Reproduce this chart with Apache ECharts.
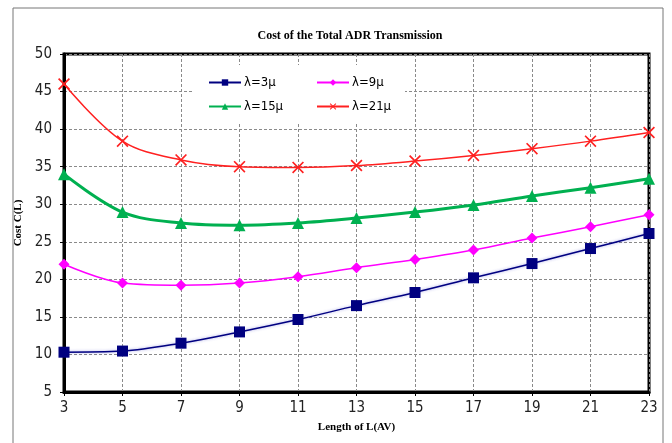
<!DOCTYPE html>
<html>
<head>
<meta charset="utf-8">
<script src="https://cdn.jsdelivr.net/npm/echarts@6/dist/echarts.min.js"></script>
<style>
  html, body { margin: 0; padding: 0; background: #fff; }
  #chart { width: 672px; height: 443px; }
</style>
</head>
<body>
<div id="chart"></div>
<script>
// Length of L(AV)
const lengths = ['3', '5', '7', '9', '11', '13', '15', '17', '19', '21', '23'];

// Cost C(L) for each λ
const costL3  = [10.3, 10.45, 11.5, 13.0, 14.65, 16.5, 18.25, 20.2, 22.1, 24.1, 26.1];
const costL9  = [22.0, 19.5, 19.2, 19.5, 20.35, 21.55, 22.65, 23.9, 25.5, 27.0, 28.6];
const costL15 = [34.0, 28.95, 27.5, 27.2, 27.5, 28.15, 28.95, 29.9, 31.1, 32.2, 33.4];
const costL21 = [46.0, 38.4, 35.9, 35.0, 34.9, 35.15, 35.75, 36.5, 37.4, 38.4, 39.55];

const names = ['λ=3μ', 'λ=9μ', 'λ=15μ', 'λ=21μ'];

const crossSymbol = 'path://M0,1 L1,0 L5,4 L9,0 L10,1 L6,5 L10,9 L9,10 L5,6 L1,10 L0,9 L4,5 Z';

const tickFont = '"DejaVu Sans Condensed", "Liberation Sans Narrow", sans-serif';
const serifFont = '"Liberation Serif", "Times New Roman", serif';

const chart = echarts.init(document.getElementById('chart'));

function legendAt(name, left, top) {
  return {
    data: [name], left: left, top: top, orient: 'horizontal',
    itemWidth: 32, itemHeight: 8, itemGap: 0, padding: 0, z: 5,
    textStyle: { fontFamily: tickFont, fontSize: 13, color: '#000', padding: [0, 0, 0, -2] }
  };
}

chart.setOption({
  animation: false,
  backgroundColor: '#fff',
  title: {
    text: 'Cost of the Total ADR Transmission',
    left: 345, top: 25, textAlign: 'center',
    textStyle: { fontFamily: serifFont, fontWeight: 'bold', fontSize: 12, color: '#000' }
  },
  graphic: [
    { type: 'rect', shape: { x: 13, y: 8, width: 650, height: 445 },
      style: { fill: 'none', stroke: '#777', lineWidth: 1 }, z: 0, silent: true },
    { type: 'rect', shape: { x: 194, y: 65, width: 211, height: 57 },
      style: { fill: '#fff' }, z: 1, silent: true }
  ],
  legend: [
    legendAt(names[0], 208, 76),
    legendAt(names[1], 316, 76),
    legendAt(names[2], 208, 100),
    legendAt(names[3], 316, 100)
  ],
  grid: {
    left: 64, right: 23, top: 54, bottom: 51,
    show: true, borderColor: '#000', borderWidth: 3, backgroundColor: 'transparent'
  },
  xAxis: {
    type: 'category', data: lengths, boundaryGap: false,
    name: 'Length of L(AV)', nameLocation: 'middle', nameGap: 30,
    nameTextStyle: { fontFamily: serifFont, fontWeight: 'bold', fontSize: 11, color: '#000' },
    axisLine: { show: true, lineStyle: { color: '#000', width: 3 } },
    axisTick: { show: true, inside: false, length: 4, alignWithLabel: true, lineStyle: { color: '#000', width: 1 } },
    axisLabel: { fontFamily: tickFont, fontSize: 15, color: '#222', margin: 9 },
    splitLine: { show: true, lineStyle: { color: '#8a8a8a', width: 1, type: [3, 2] } }
  },
  yAxis: {
    type: 'value', min: 5, max: 50, interval: 5,
    name: 'Cost C(L)', nameLocation: 'middle', nameGap: 38, nameRotate: 90,
    nameTextStyle: { fontFamily: serifFont, fontWeight: 'bold', fontSize: 11, color: '#000' },
    axisLine: { show: true, lineStyle: { color: '#000', width: 3 } },
    axisTick: { show: true, length: 4, lineStyle: { color: '#000', width: 1 } },
    axisLabel: { fontFamily: tickFont, fontSize: 15, color: '#222', margin: 12 },
    splitLine: { show: true, lineStyle: { color: '#8a8a8a', width: 1, type: [3, 2] } }
  },
  series: [
    {
      name: names[0], type: 'line', data: costL3, smooth: 0.35, z: 3,
      symbol: 'rect', symbolSize: 11,
      lineStyle: { color: '#000080', width: 1.5, shadowColor: 'rgba(60,60,200,0.45)', shadowBlur: 3 },
      itemStyle: { color: '#000080' }
    },
    {
      name: names[1], type: 'line', data: costL9, smooth: 0.35, z: 3,
      symbol: 'diamond', symbolSize: 11,
      lineStyle: { color: '#ff00ff', width: 1.5 },
      itemStyle: { color: '#ff00ff' }
    },
    {
      name: names[2], type: 'line', data: costL15, smooth: 0.35, z: 3,
      symbol: 'triangle', symbolSize: 12,
      lineStyle: { color: '#00b050', width: 3 },
      itemStyle: { color: '#00b050' }
    },
    {
      name: names[3], type: 'line', data: costL21, smooth: 0.35, z: 3,
      symbol: crossSymbol, symbolSize: 12,
      lineStyle: { color: '#ff2020', width: 1.5 },
      itemStyle: { color: '#ff2020' }
    }
  ]
});
</script>
</body>
</html>
